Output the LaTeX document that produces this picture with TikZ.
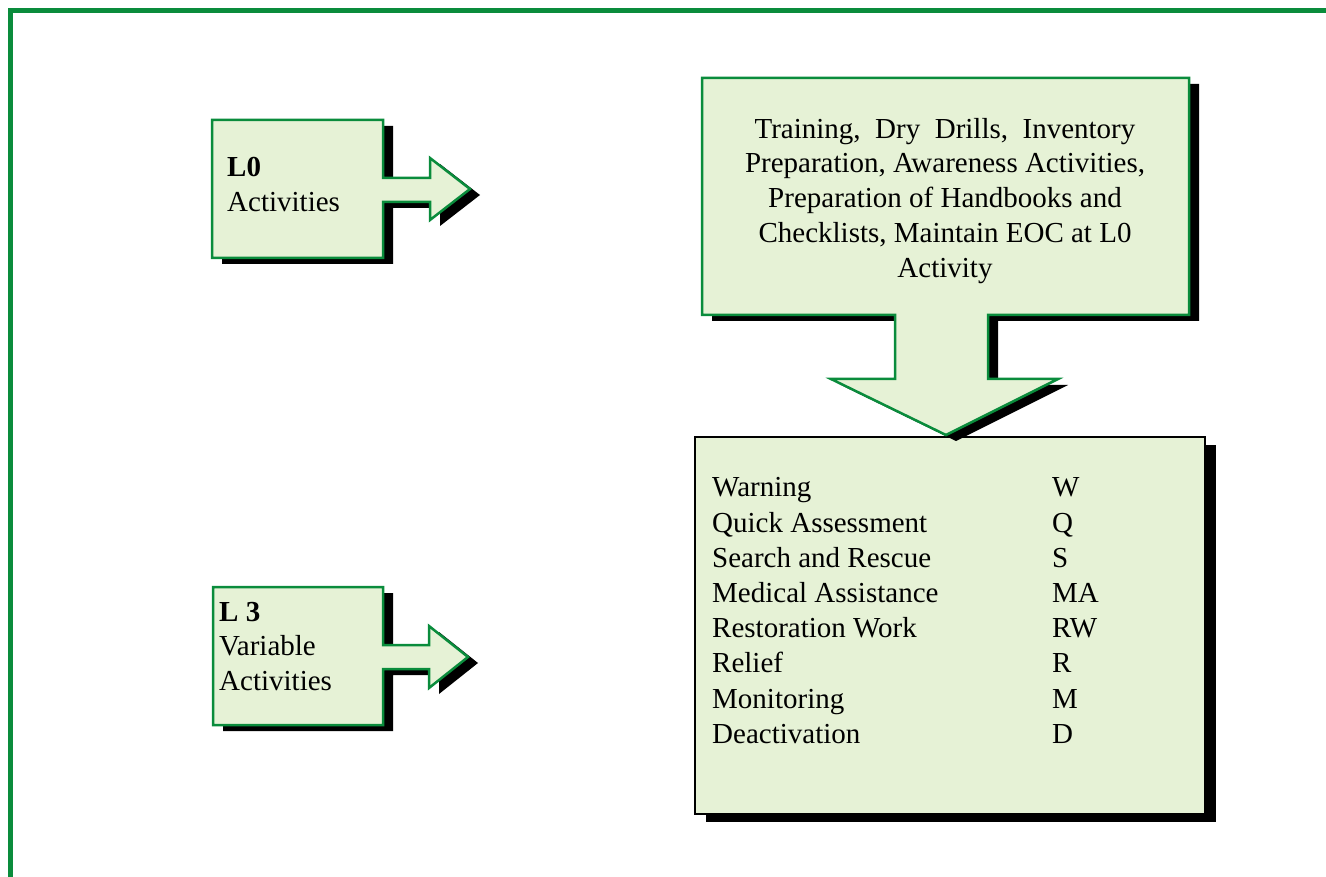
\documentclass[tikz,border=0pt]{standalone}
\usepackage{fontspec}
\setmainfont{Liberation Serif}
\definecolor{framegreen}{RGB}{10,140,60}
\definecolor{boxline}{RGB}{10,140,60}
\definecolor{boxfill}{RGB}{230,242,214}

% outlines of the three callout shapes (box with an attached arrow)
\def\levelzeroshape{(212,120) -- (383,120) -- (383,178) -- (430,178) -- (430,158) -- (470,189) -- (430,220) -- (430,202) -- (383,202) -- (383,258) -- (212,258) -- cycle}
\def\levelthreeshape{(213,587) -- (383,587) -- (383,645) -- (429,645) -- (429,626) -- (468,657) -- (429,688) -- (429,669) -- (383,669) -- (383,725) -- (213,725) -- cycle}
\def\prepshape{(702,78) -- (1189,78) -- (1189,315) -- (988,315) -- (988,379) -- (1058,379) -- (946,435) -- (831,379) -- (895,379) -- (895,315) -- (702,315) -- cycle}

\tikzset{
  shadowfill/.style={fill=black},
  calloutbox/.style={fill=boxfill, draw=boxline, line width=2.5pt, line join=miter},
  listbox/.style={fill=boxfill, draw=black, line width=2.5pt, line join=miter},
  lbl/.style={anchor=base west, inner sep=0pt, font=\fontsize{29}{35}\selectfont},
  ctr/.style={anchor=base, inner sep=0pt, font=\fontsize{29}{35}\selectfont},
}

\begin{document}
\begin{tikzpicture}[x=1pt, y=-1pt]
\useasboundingbox (0,0) rectangle (1326,877);

% outer frame (top and left edges)
\draw[framegreen, line width=5pt, line join=miter] (10,890) -- (10,10.5) -- (1340,10.5);

% L0 callout
\fill[shadowfill, shift={(10,6)}] \levelzeroshape;
\path[calloutbox] \levelzeroshape;
\node[lbl] (l0title) at (227,177) {\bfseries L0};
\node[lbl] (l0text) at (227,212) {Activities};

% L3 callout
\fill[shadowfill, shift={(10,6)}] \levelthreeshape;
\path[calloutbox] \levelthreeshape;
\node[lbl] (l3title) at (219,621) {\bfseries L 3};
\node[lbl] (l3text1) at (219,655) {Variable};
\node[lbl] (l3text2) at (219,690) {Activities};

% list of activities with abbreviations
\fill[shadowfill] (706,445) rectangle (1216,822);
\path[listbox] (695,437) rectangle (1205,814);
\foreach \txt/\abbr/\yy [count=\i] in {
  Warning/W/496,
  Quick Assessment/Q/532,
  Search and Rescue/S/567,
  Medical Assistance/MA/602,
  Restoration Work/RW/637,
  Relief/R/672,
  Monitoring/M/708,
  Deactivation/D/743}{
  \node[lbl] (act\i) at (712,\yy) {\txt};
  \node[lbl] (abbr\i) at (1052,\yy) {\abbr};
}

% preparedness callout pointing down to the list
\fill[shadowfill, shift={(10,6)}] \prepshape;
\path[calloutbox] \prepshape;
\node[ctr] (prep1) at (945,139) {Training,\ \ Dry\ \ Drills,\ \ Inventory};
\node[ctr] (prep2) at (945,173) {Preparation, Awareness Activities,};
\node[ctr] (prep3) at (945,208) {Preparation of Handbooks and};
\node[ctr] (prep4) at (945,243) {Checklists, Maintain EOC at L0};
\node[ctr] (prep5) at (945,278) {Activity};
\end{tikzpicture}
\end{document}
